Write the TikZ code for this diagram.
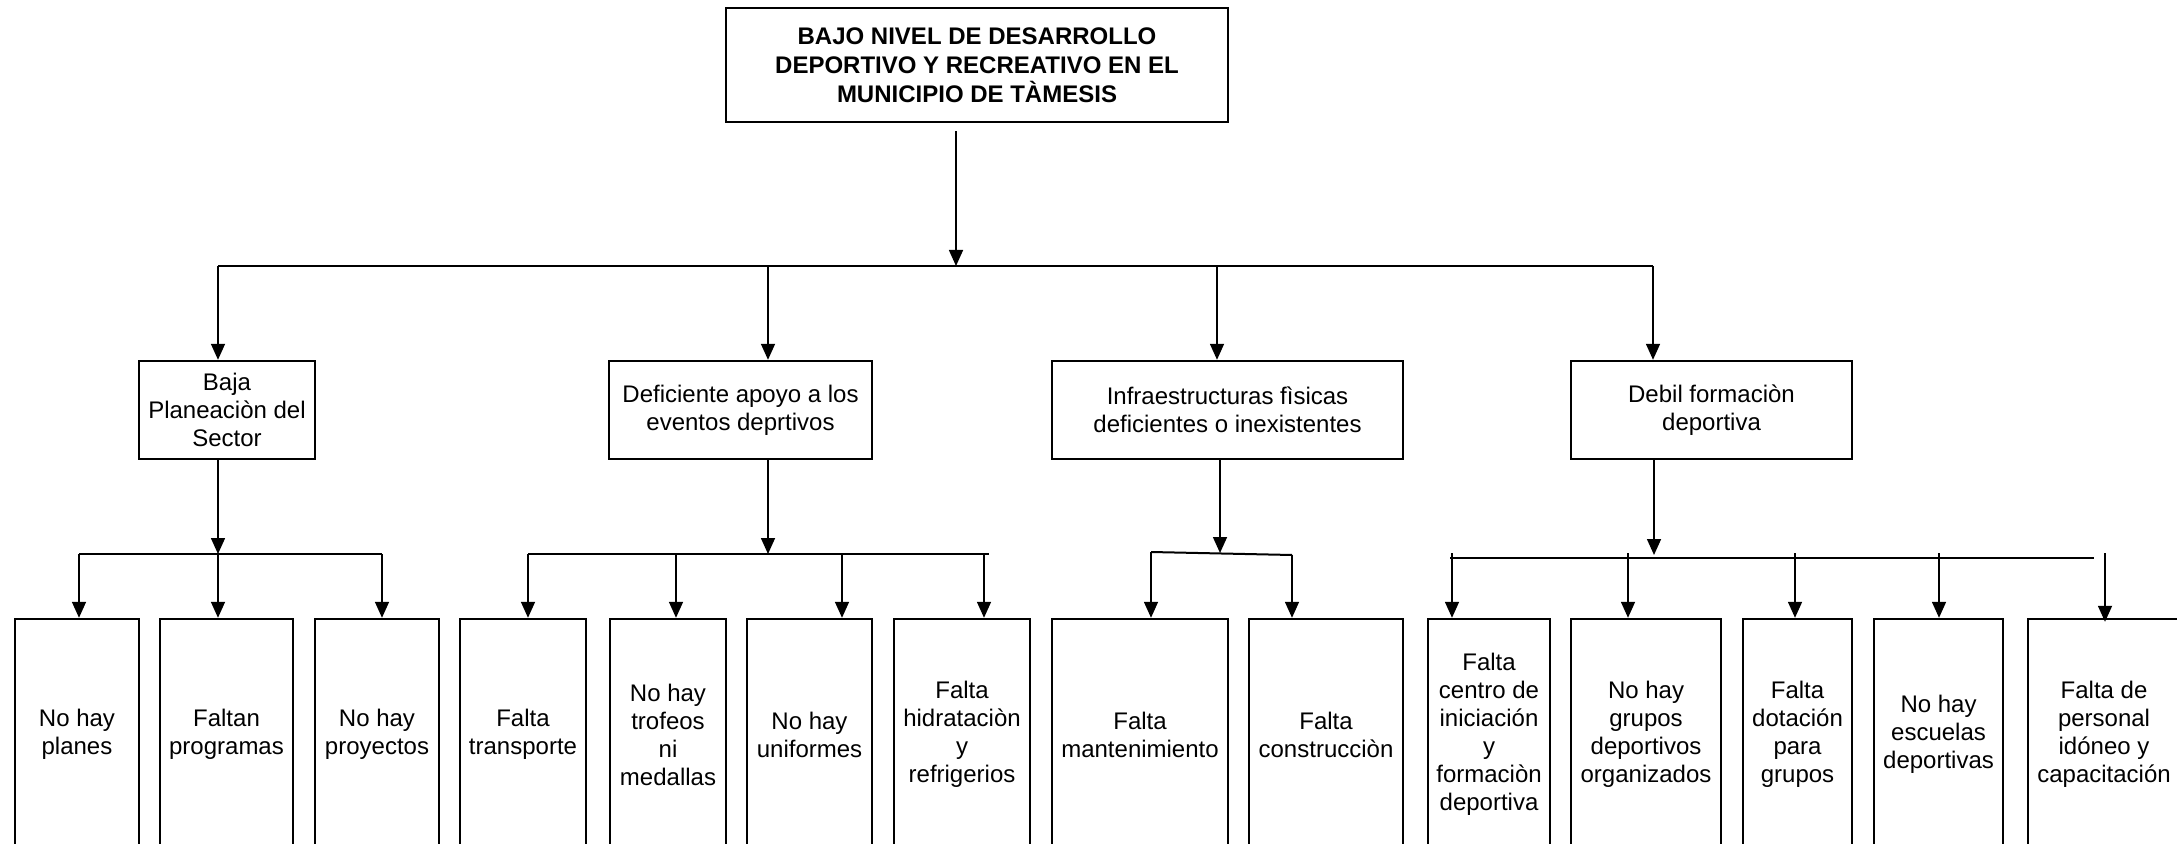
\documentclass[tikz,border=0pt]{standalone}
\usepackage{fontspec}
\setmainfont{Liberation Sans}
\usetikzlibrary{arrows.meta}

\tikzset{
  box/.style={draw, line width=1.2pt, align=center, inner sep=2pt,
    font=\fontsize{12}{14}\selectfont},
  midbox/.style={box, minimum height=49pt},
  lowbox/.style={box, minimum height=115.5pt},
  link/.style={line width=0.8pt},
  bus/.style={line width=1pt},
}

\begin{document}
\begin{tikzpicture}[x=0.5pt, y=-0.5pt, >={Triangle[length=8pt,width=7pt]}]
  \clip (0,0) rectangle (2177,844);

  % Problem
  \node[box, font=\bfseries\fontsize{12}{14.5}\selectfont,
        minimum width=251pt, minimum height=57pt] (root) at (977,65)
        {BAJO NIVEL DE DESARROLLO\\DEPORTIVO Y RECREATIVO EN EL\\MUNICIPIO DE TÀMESIS};

  % Causes
  \node[midbox, minimum width=88pt]    (planea)    at (227,410)    {Baja\\Planeaciòn del\\Sector};
  \node[midbox, minimum width=131.5pt] (apoyo)     at (740.5,410)  {Deficiente apoyo a los\\eventos deprtivos};
  \node[midbox, minimum width=175.5pt] (infra)     at (1227.5,410) {Infraestructuras fìsicas\\deficientes o inexistentes};
  \node[midbox, minimum width=140.5pt] (formacion) at (1711.5,410) {Debil formaciòn\\deportiva};

  % Sub-causes
  \node[lowbox, minimum width=62pt]   (planes)     at (77,734.5)     {No hay\\planes};
  \node[lowbox, minimum width=66.5pt] (programas)  at (226.5,734.5)  {Faltan\\programas};
  \node[lowbox, minimum width=62pt]   (proyectos)  at (377,734.5)    {No hay\\proyectos};
  \node[lowbox, minimum width=63pt]   (transporte) at (523,734.5)    {Falta\\transporte};
  \node[lowbox, minimum width=58pt]   (trofeos)    at (668,734.5)    {No hay\\trofeos\\ni\\medallas};
  \node[lowbox, minimum width=62.5pt] (uniformes)  at (809.5,734.5)  {No hay\\uniformes};
  \node[lowbox, minimum width=68pt]   (hidrata)    at (962,734.5)    {Falta\\hidrataciòn\\y\\refrigerios};
  \node[lowbox, minimum width=88pt]   (manten)     at (1140,734.5)   {Falta\\mantenimiento};
  \node[lowbox, minimum width=77pt]   (constru)    at (1326,734.5)   {Falta\\construcciòn};
  \node[lowbox, minimum width=61pt]   (centro)     at (1489,734.5)   {Falta\\centro de\\iniciación\\y\\formaciòn\\deportiva};
  \node[lowbox, minimum width=75pt]   (grupos)     at (1646,734.5)   {No hay\\grupos\\deportivos\\organizados};
  \node[lowbox, minimum width=54.5pt] (dotacion)   at (1797.5,734.5) {Falta\\dotación\\para\\grupos};
  \node[lowbox, minimum width=64.5pt] (escuelas)   at (1938.5,734.5) {No hay\\escuelas\\deportivas};
  \node[lowbox, minimum width=76pt]   (personal)   at (2104,734.5)   {Falta de\\personal\\idóneo y\\capacitación};

  % Root to causes
  \coordinate (hub) at (956,266);
  \foreach \x [count=\i] in {218,768,1217,1653} \coordinate (t\i) at (\x,266);
  \draw[link,->, shorten <=4pt] (root.south -| hub) -- (hub);
  \draw[bus] (t1) -- (t4);
  \foreach \t/\n in {t1/planea, t2/apoyo, t3/infra, t4/formacion}
    \draw[link,->] (\t) -- (\t |- \n.north);

  % Baja planeacion
  \foreach \x [count=\i] in {79,218,382} \coordinate (a\i) at (\x,554);
  \draw[link,->] (a2 |- planea.south) -- (a2);
  \draw[bus] (a1) -- (a3);
  \foreach \d/\n in {a1/planes, a2/programas, a3/proyectos}
    \draw[link,->] (\d) -- (\d |- \n.north);

  % Apoyo a los eventos
  \coordinate (hB) at (768,554);
  \coordinate (bEnd) at (989,554);
  \foreach \x [count=\i] in {528,676,842,984} \coordinate (b\i) at (\x,554);
  \draw[link,->] (hB |- apoyo.south) -- (hB);
  \draw[bus] (b1) -- (bEnd);
  \foreach \d/\n in {b1/transporte, b2/trofeos, b3/uniformes, b4/hidrata}
    \draw[link,->] (\d) -- (\d |- \n.north);

  % Infraestructura
  \coordinate (hC) at (1220,553);
  \coordinate (c1) at (1151,552);
  \coordinate (c2) at (1292,555);
  \draw[link,->] (hC |- infra.south) -- (hC);
  \draw[bus] (c1) -- (c2);
  \foreach \d/\n in {c1/manten, c2/constru}
    \draw[link,->] (\d) -- (\d |- \n.north);

  % Formacion deportiva
  \coordinate (hD) at (1654,555);
  \coordinate (dL) at (1450,558);
  \coordinate (dR) at (2094,558);
  \foreach \x [count=\i] in {1452,1628,1795,1939,2105} \coordinate (d\i) at (\x,553);
  \draw[link,->] (hD |- formacion.south) -- (hD);
  \draw[bus] (dL) -- (dR);
  \foreach \d/\n in {d1/centro, d2/grupos, d3/dotacion, d4/escuelas}
    \draw[link,->] (\d) -- (\d |- \n.north);
  \draw[link,->, shorten >=-2pt] (d5) -- (d5 |- personal.north);
\end{tikzpicture}
\end{document}
